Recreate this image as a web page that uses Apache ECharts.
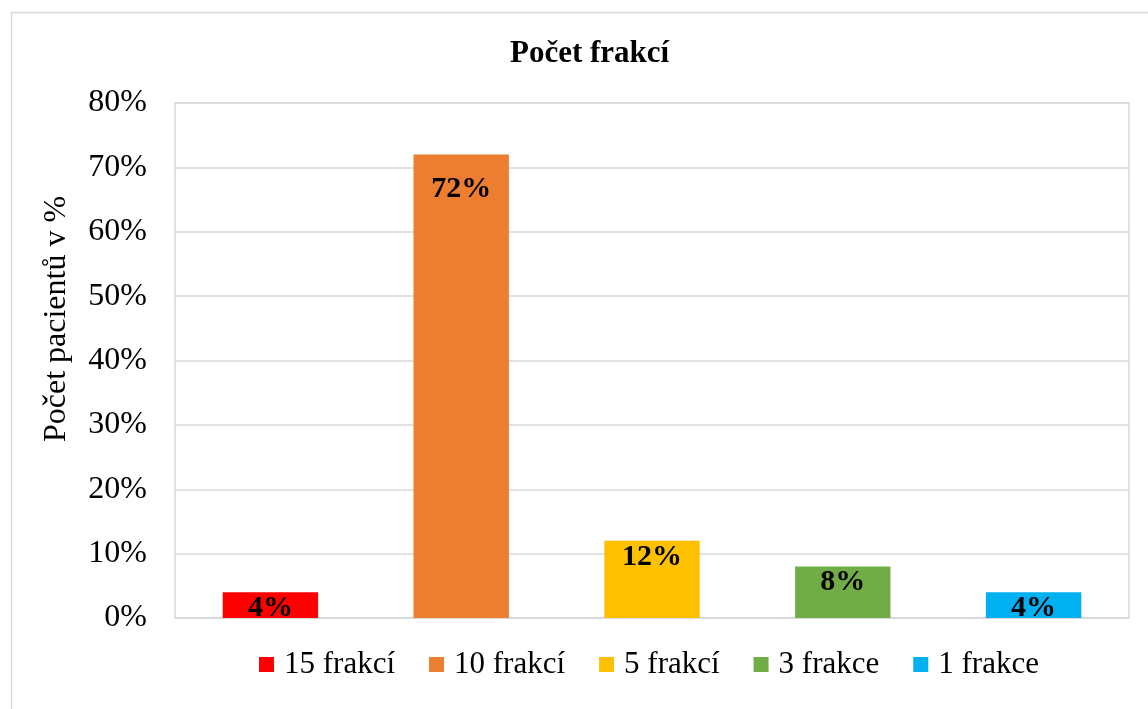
<!DOCTYPE html>
<html>
<head>
<meta charset="utf-8">
<script src="https://cdn.jsdelivr.net/npm/echarts@6/dist/echarts.min.js"></script>
<style>
  html, body { margin: 0; padding: 0; background: #fff; }
  #chart { width: 1148px; height: 709px; }
</style>
</head>
<body>
<div id="chart"></div>
<script>
const categories = ['15 frakcí', '10 frakcí', '5 frakcí', '3 frakce', '1 frakce']
const values = [4, 72, 12, 8, 4]
const colors = ['#FF0000', '#ED7D31', '#FFC000', '#70AD47', '#00B0F0']
const yTicks = [0, 10, 20, 30, 40, 50, 60, 70, 80]

const serif = '"Liberation Serif", "Times New Roman", serif'

const myChart = echarts.init(document.getElementById('chart'))

// one series per category so every bar gets its own legend entry
const series = categories.map((name, i) => ({
  name: name,
  type: 'bar',
  barWidth: '50%',
  barGap: '-100%',
  itemStyle: { color: colors[i] },
  data: categories.map((c, j) => (j === i ? values[i] : null)),
  label: {
    show: true,
    position: 'insideTop',
    distance: values[i] > 50 ? 20 : 0,
    offset: [0, values[i] > 50 ? 0 : 1],
    formatter: p => p.value + '%',
    fontFamily: serif,
    fontWeight: 'bold',
    fontSize: 30,
    color: '#000'
  }
}))

const options = {
  animation: false,
  title: {
    text: 'Počet frakcí',
    left: 505,
    top: 33,
    textStyle: { fontFamily: serif, fontWeight: 'bold', fontSize: 31, color: '#000' }
  },
  legend: {
    top: 644,
    left: 254,
    itemWidth: 15,
    itemHeight: 15,
    itemGap: 34,
    icon: 'rect',
    textStyle: { fontFamily: serif, fontSize: 31, color: '#000', padding: [0, 0, 0, 5] },
    data: categories
  },
  graphic: [
    {
      type: 'rect',
      shape: { x: 11.5, y: 12.5, width: 1200, height: 800 },
      style: { fill: 'none', stroke: '#d9d9d9', lineWidth: 1.5 },
      silent: true
    },
    {
      type: 'text',
      x: 57,
      y: 319,
      rotation: Math.PI / 2,
      style: {
        text: 'Počet pacientů v %',
        fontFamily: serif,
        fontSize: 32,
        fill: '#000',
        align: 'center',
        verticalAlign: 'middle'
      },
      silent: true
    }
  ],
  grid: {
    left: 175,
    right: 19,
    top: 103,
    bottom: 91,
    show: true,
    borderColor: '#d9d9d9',
    borderWidth: 1.5
  },
  xAxis: {
    type: 'category',
    data: categories,
    axisLine: { show: true, lineStyle: { color: '#d9d9d9', width: 1.5 } },
    axisTick: { show: false },
    axisLabel: { show: false }
  },
  yAxis: {
    type: 'value',
    min: yTicks[0],
    max: yTicks[yTicks.length - 1],
    interval: 10,
    axisLine: { show: false },
    axisTick: { show: false },
    axisLabel: {
      formatter: '{value}%',
      fontFamily: serif,
      fontSize: 32,
      color: '#000',
      margin: 28
    },
    splitLine: { lineStyle: { color: '#d9d9d9', width: 1.5 } }
  },
  series: series
}

myChart.setOption(options)
</script>
</body>
</html>
